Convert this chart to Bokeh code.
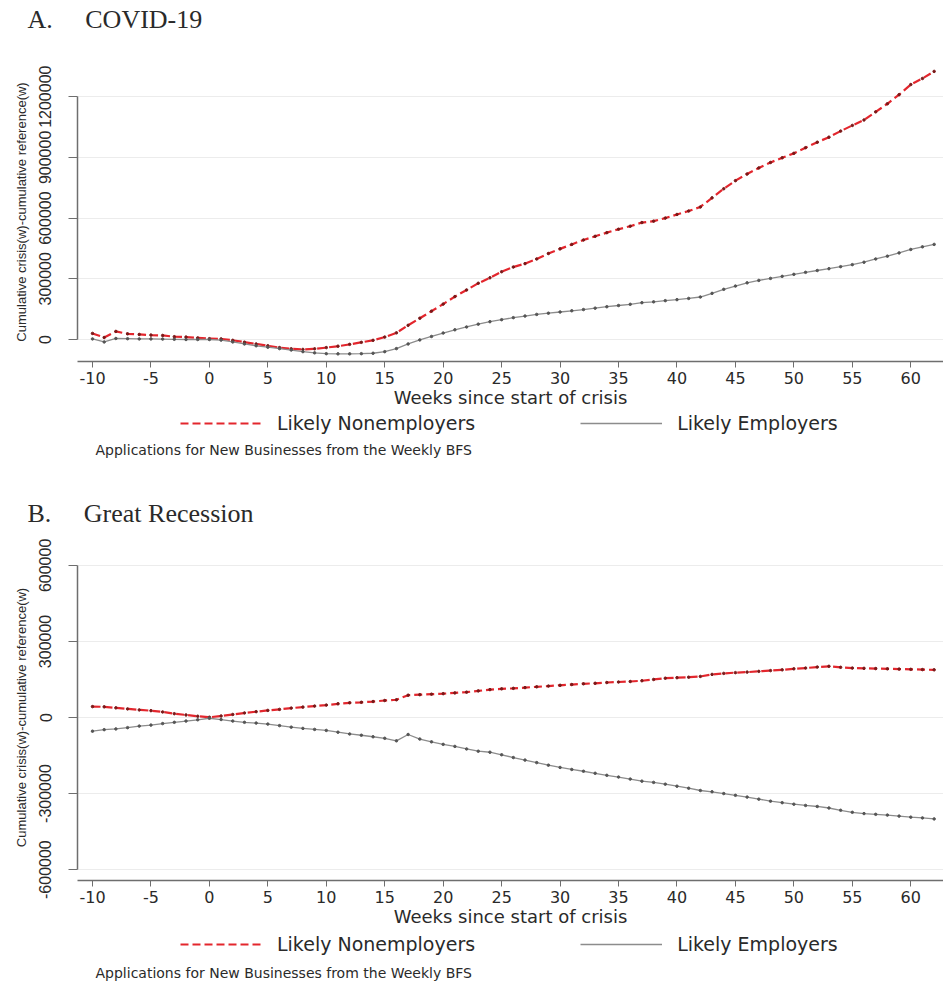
import math
from bokeh.plotting import figure
from bokeh.models import Label, Legend, LegendItem, FixedTicker, PrintfTickFormatter, Range1d, Title
from bokeh.layouts import column
from bokeh.embed import file_html
from bokeh.resources import INLINE

weeks = list(range(-10, 63))

covid_nonemp = [30000, 10000, 40000, 28000, 25000, 22000, 20000, 14000, 12000, 8000,
                4000, 3000, -4000, -13000, -22000, -31000, -40000, -46000, -49000, -46000,
                -40000, -33000, -24000, -14000, -4000, 12000, 33000, 70000, 105000, 140000,
                175000, 212000, 245000, 278000, 305000, 335000, 358000, 375000, 398000, 425000,
                448000, 470000, 492000, 510000, 528000, 545000, 560000, 578000, 585000, 600000,
                618000, 635000, 655000, 700000, 745000, 785000, 818000, 848000, 875000, 898000,
                920000, 948000, 975000, 1000000, 1030000, 1058000, 1085000, 1125000, 1165000, 1210000,
                1260000, 1290000, 1325000]

covid_emp = [3000, -12000, 5000, 4000, 3000, 3000, 2000, 1000, 0, 0,
             0, -3000, -12000, -22000, -31000, -38000, -45000, -52000, -60000, -66000,
             -70000, -71000, -71000, -70000, -68000, -60000, -45000, -22000, -2000, 15000,
             32000, 48000, 62000, 76000, 88000, 98000, 108000, 116000, 124000, 130000,
             136000, 142000, 148000, 155000, 162000, 168000, 174000, 182000, 186000, 192000,
             197000, 203000, 210000, 228000, 248000, 264000, 280000, 292000, 302000, 312000,
             322000, 332000, 341000, 350000, 360000, 370000, 382000, 398000, 412000, 428000,
             445000, 458000, 470000]

gr_nonemp = [43000, 42000, 38000, 34000, 30000, 27000, 22000, 15000, 10000, 5000,
             1000, 6000, 12000, 18000, 23000, 28000, 32000, 37000, 41000, 45000,
             49000, 54000, 58000, 60000, 63000, 67000, 70000, 88000, 90000, 92000,
             94000, 97000, 100000, 105000, 110000, 113000, 115000, 118000, 121000, 124000,
             127000, 130000, 133000, 135000, 138000, 140000, 142000, 145000, 150000, 155000,
             157000, 159000, 162000, 170000, 174000, 177000, 179000, 182000, 185000, 188000,
             192000, 195000, 199000, 202000, 198000, 195000, 194000, 193000, 192000, 191000,
             190000, 189000, 188000]

gr_emp = [-54000, -48000, -45000, -40000, -34000, -30000, -24000, -19000, -14000, -9000,
          -3000, -8000, -14000, -19000, -22000, -26000, -32000, -38000, -43000, -47000,
          -51000, -58000, -65000, -70000, -76000, -82000, -92000, -67000, -85000, -96000,
          -106000, -114000, -124000, -133000, -137000, -147000, -158000, -168000, -178000, -188000,
          -197000, -205000, -212000, -220000, -228000, -235000, -243000, -251000, -256000, -263000,
          -271000, -279000, -288000, -293000, -300000, -307000, -314000, -322000, -330000, -336000,
          -342000, -347000, -351000, -357000, -366000, -374000, -379000, -382000, -385000, -389000,
          -393000, -396000, -400000]

x_ticks = list(range(-10, 61, 5))
covid_yticks = [0, 300000, 600000, 900000, 1200000]
gr_yticks = [-600000, -300000, 0, 300000, 600000]
series_labels = ["Likely Nonemployers", "Likely Employers"]
note_text = "Applications for New Businesses from the Weekly BFS"
x_title = "Weeks since start of crisis"
y_title = "Cumulative crisis(w)-cumulative reference(w)"
NB = "\u00a0"
title_A = "A." + NB * 5 + "COVID-19"
title_B = "B." + NB * 5 + "Great Recession"

W = 943
LEFT = 77
RED = "#e3262d"
RED_DOT = "#7a1818"
GRAY = "#8c8c8c"
GRAY_DOT = "#555555"
TXT = "#2a2a2a"
AX = "#6e6e6e"

RED_STYLE = dict(line_color=RED, line_width=2.2, line_dash="8 4")
GRAY_STYLE = dict(line_color=GRAY, line_width=1.3)
RED_DOT_STYLE = dict(size=2.5, fill_color=RED_DOT, line_color=RED_DOT)
GRAY_DOT_STYLE = dict(size=2.5, fill_color=GRAY_DOT, line_color=GRAY_DOT)


def bottom_fig(height, legend_bottom, note_mid, nonemp, emp):
    # frame is aligned with the plot frame above (starts at LEFT)
    p = figure(width=W, height=height, output_backend="svg", toolbar_location=None,
               x_range=Range1d(0, W - LEFT), y_range=Range1d(0, height),
               x_axis_location=None, y_axis_location=None, min_border=0,
               min_border_left=LEFT)
    p.grid.visible = False
    p.outline_line_color = None
    p.background_fill_color = "white"
    p.border_fill_color = "white"
    # hidden renderers that only supply the legend swatches
    r_line = p.line(weeks, nonemp, visible=False, **RED_STYLE)
    g_line = p.line(weeks, emp, visible=False, **GRAY_STYLE)
    legend = Legend(items=[LegendItem(label=series_labels[0], renderers=[r_line]),
                           LegendItem(label=series_labels[1], renderers=[g_line])],
                    orientation="horizontal", location=(103, legend_bottom),
                    border_line_color=None, background_fill_alpha=0,
                    padding=0, margin=0, spacing=105, glyph_width=82, glyph_height=20,
                    label_height=20, label_standoff=15,
                    label_text_font="DejaVu Sans", label_text_font_size="19px",
                    label_text_color=TXT)
    p.add_layout(legend)
    p.add_layout(Label(x=18, y=note_mid, text=note_text, text_font="DejaVu Sans",
                       text_font_size="14px", text_color=TXT, text_baseline="middle"))
    return p


def plot_fig(title, nonemp, emp, yticks, yrange, height, top, frame_h, gap):
    bottom = height - top - frame_h
    p = figure(width=W, height=height, output_backend="svg", toolbar_location=None,
               x_range=Range1d(-11.283, 62.80), y_range=Range1d(*yrange),
               min_border_left=LEFT, min_border_right=0, min_border_top=top,
               min_border_bottom=bottom, title=title)
    p.title.align = "left"
    p.title.offset = -50
    p.title.standoff = 0
    p.title.text_font = "Liberation Serif"
    p.title.text_font_size = "26px"
    p.title.text_font_style = "normal"
    p.title.text_color = TXT
    # empty spacer between the title and the plot area
    p.add_layout(Title(text=NB, text_font_size="2px", standoff=gap, text_color="white"), "above")

    p.outline_line_color = None
    p.background_fill_color = "white"
    p.border_fill_color = "white"

    p.xgrid.grid_line_color = None
    p.ygrid.grid_line_color = "#ececec"
    p.ygrid.grid_line_width = 1
    p.ygrid.ticker = FixedTicker(ticks=yticks)

    xa = p.xaxis[0]
    xa.ticker = FixedTicker(ticks=x_ticks)
    xa.formatter = PrintfTickFormatter(format="%d")
    xa.axis_line_color = AX
    xa.axis_line_width = 1.5
    xa.major_tick_line_color = AX
    xa.major_tick_out = 6
    xa.major_tick_in = 0
    xa.minor_tick_line_color = None
    xa.major_label_standoff = 4
    xa.major_label_text_font = "DejaVu Sans"
    xa.major_label_text_font_size = "16px"
    xa.major_label_text_color = TXT
    xa.axis_label = x_title
    xa.axis_label_text_font = "DejaVu Sans"
    xa.axis_label_text_font_size = "18px"
    xa.axis_label_text_font_style = "normal"
    xa.axis_label_text_color = TXT
    xa.axis_label_standoff = 0

    ya = p.yaxis[0]
    ya.ticker = FixedTicker(ticks=yticks)
    ya.bounds = (yticks[0], yticks[-1])
    ya.formatter = PrintfTickFormatter(format="%d")
    ya.axis_line_color = AX
    ya.axis_line_width = 1.5
    ya.major_tick_line_color = AX
    ya.major_tick_out = 9
    ya.major_tick_in = 0
    ya.minor_tick_line_color = None
    ya.major_label_orientation = "vertical"
    ya.major_label_standoff = 17
    ya.major_label_text_font = "Liberation Sans"
    ya.major_label_text_font_size = "16px"
    ya.major_label_text_color = TXT
    ya.axis_label = y_title
    ya.axis_label_text_font = "Liberation Sans"
    ya.axis_label_text_font_size = "13px"
    ya.axis_label_text_font_style = "normal"
    ya.axis_label_text_color = TXT
    ya.axis_label_standoff = 8

    p.line(weeks, nonemp, **RED_STYLE)
    p.scatter(weeks, nonemp, **RED_DOT_STYLE)
    p.line(weeks, emp, **GRAY_STYLE)
    p.scatter(weeks, emp, **GRAY_DOT_STYLE)
    return p


pA = plot_fig(title_A, covid_nonemp, covid_emp, covid_yticks, (-108700, 1369000), 411, 62, 299, 25)
bA = bottom_fig(84, 61, 46, covid_nonemp, covid_emp)

pB = plot_fig(title_B, gr_nonemp, gr_emp, gr_yticks, (-643000, 643000), 435, 59, 326, 23)
bB = bottom_fig(55, 30, 13, gr_nonemp, gr_emp)

layout = column(pA, bA, pB, bB, spacing=0)
open("out.html", "w").write(file_html(layout, INLINE))
